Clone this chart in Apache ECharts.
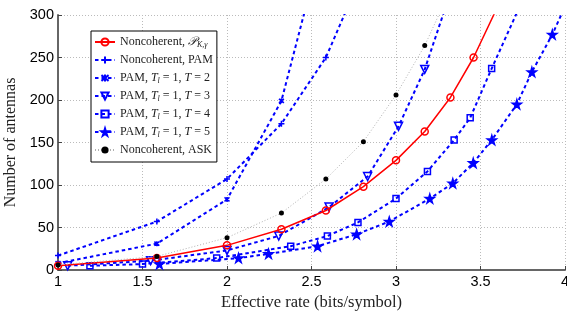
<!DOCTYPE html>
<html>
<head>
<meta charset="utf-8">
<script src="https://cdn.jsdelivr.net/npm/echarts@6/dist/echarts.min.js"></script>
<style>
    html, body { margin: 0; padding: 0; background: #fff; }
    #chart-antennas { width: 567px; height: 312px; }
</style>
</head>
<body>
<div id="chart-antennas"></div>
<script>
// rate (bits/symbol) and antennas
var rateNc    = [1, 1.585, 2, 2.322, 2.585, 2.807, 3, 3.17, 3.322, 3.459, 3.585];
var antNc     = [5, 14, 29, 48, 70, 98, 129, 163, 203, 250, 303];
var ratePam   = [1, 1.585, 2, 2.322, 2.585, 2.807];
var antPam    = [17, 57, 107, 172, 250, 352];
var rateT2    = [1, 1.585, 2, 2.322, 2.585];
var antT2     = [8, 31, 83, 199, 400];
var rateT3    = [1.057, 1.548, 2, 2.306, 2.604, 2.832, 3.015, 3.17, 3.303];
var antT3     = [5, 11, 23, 40, 74, 110, 169, 236, 315];
var rateT4    = [1.189, 1.5, 1.939, 2.377, 2.594, 2.775, 3, 3.186, 3.344, 3.439, 3.566, 3.716];
var antT4     = [5, 7, 14, 28, 40, 56, 84, 116, 153, 179, 237, 303];
var rateT5    = [1.6, 2.068, 2.246, 2.536, 2.767, 2.96, 3.2, 3.336, 3.457, 3.567, 3.715, 3.804, 3.925, 4.0];
var antT5     = [7, 14, 19, 28, 42, 57, 84, 102, 126, 153, 195, 233, 277, 310];
var rateAsk   = [1, 1.585, 2, 2.322, 2.585, 2.807, 3, 3.17, 3.322];
var antAsk    = [6, 16, 38, 67, 107, 151, 206, 264, 330];

var xTicks = [1, 1.5, 2, 2.5, 3, 3.5, 4];
var yTicks = [0, 50, 100, 150, 200, 250, 300];

var names = [
    'Noncoherent, {sc|𝒫}{sub|K,γ}',
    'Noncoherent, PAM',
    'PAM, {it|T}{sub|l} = 1, {it|T} = 2',
    'PAM, {it|T}{sub|l} = 1, {it|T} = 3',
    'PAM, {it|T}{sub|l} = 1, {it|T} = 4',
    'PAM, {it|T}{sub|l} = 1, {it|T} = 5',
    'Noncoherent, ASK'
];

var BLUE = '#0000ff';
var SERIF = '"Liberation Serif", "DejaVu Serif", serif';
var SANS = '"Liberation Sans", Arial, sans-serif';

var plusPath = 'path://M5,0 L5,10 M0,5 L10,5';
var crossPath = 'path://M1,1 L9,9 M9,1 L1,9 M5,0 L5,10';
var starPath = 'path://M50,0 L61,35 L98,35 L68,57 L79,91 L50,70 L21,91 L32,57 L2,35 L39,35 Z';

function pairs( xs, ys ) {
    var out = [];
    for (var i = 0; i < xs.length; i++) {
        out.push([xs[i], ys[i]]);
    }
    return out;
}

function blueSeries( name, xs, ys, symbol, size, fill ) {
    return {
        name: name,
        type: 'line',
        data: pairs( xs, ys ),
        symbol: symbol,
        symbolSize: size,
        showAllSymbol: true,
        lineStyle: { color: BLUE, width: 2, type: [3.5, 3] },
        itemStyle: { color: fill, borderColor: BLUE, borderWidth: 1.5 },
        z: 3
    };
}

var dom = document.getElementById( 'chart-antennas' );
var myChart = echarts.init( dom, null, { renderer: 'canvas' } );

var option = {
    backgroundColor: '#fff',
    animation: false,
    grid: { left: 58, right: 2, top: 15, bottom: 42, containLabel: false, outerBoundsMode: 'none' },
    legend: {
        show: true,
        orient: 'vertical',
        left: 91,
        top: 31,
        itemWidth: 20,
        itemHeight: 9,
        itemGap: 4,
        padding: [4, 4, 5, 3],
        borderColor: '#000',
        borderWidth: 1,
        backgroundColor: '#fff',
        data: names,
        textStyle: {
            fontFamily: SERIF,
            fontSize: 12,
            lineHeight: 14,
            color: '#222',
            rich: {
                it: { fontFamily: SERIF, fontSize: 12, lineHeight: 14, fontStyle: 'italic', color: '#222' },
                sc: { fontFamily: '"DejaVu Serif", serif', fontSize: 12, lineHeight: 14, fontStyle: 'italic', color: '#222' },
                sub: { fontFamily: SERIF, fontSize: 8, lineHeight: 8, verticalAlign: 'bottom', fontStyle: 'italic', color: '#222' }
            }
        }
    },
    xAxis: {
        type: 'value',
        min: 1,
        max: 4,
        interval: 0.5,
        name: 'Effective rate (bits/symbol)',
        nameLocation: 'middle',
        nameGap: 24,
        nameTextStyle: { fontFamily: SERIF, fontSize: 16.5, color: '#222' },
        axisLine: { show: true, lineStyle: { color: '#666', width: 2 } },
        axisTick: { show: true, inside: true, length: 4, lineStyle: { color: '#444' } },
        axisLabel: {
            fontFamily: SANS, fontSize: 14.5, color: '#000', margin: 4,
            formatter: function( v ) { return xTicks.indexOf( v ) >= 0 ? String( v ) : ''; }
        },
        splitLine: { show: true, lineStyle: { color: '#bbb', type: [1, 2], width: 1 } }
    },
    yAxis: {
        type: 'value',
        min: 0,
        max: 300,
        interval: 50,
        name: 'Number of antennas',
        nameLocation: 'middle',
        nameGap: 33,
        nameTextStyle: { fontFamily: SERIF, fontSize: 16, color: '#222' },
        axisLine: { show: true, lineStyle: { color: '#666', width: 2 } },
        axisTick: { show: true, inside: true, length: 4, lineStyle: { color: '#444' } },
        axisLabel: {
            fontFamily: SANS, fontSize: 14.5, color: '#000', margin: 4,
            formatter: function( v ) { return yTicks.indexOf( v ) >= 0 ? String( v ) : ''; }
        },
        splitLine: { show: true, lineStyle: { color: '#bbb', type: [1, 2], width: 1 } }
    },
    series: [
        {
            name: names[0],
            type: 'line',
            data: pairs( rateNc, antNc ),
            symbol: 'circle',
            symbolSize: 7,
            lineStyle: { color: '#ff0000', width: 1.5 },
            itemStyle: { color: 'rgba(255,255,255,0)', borderColor: '#ff0000', borderWidth: 1.5 },
            z: 4
        },
        blueSeries( names[1], ratePam, antPam, plusPath, 6, BLUE ),
        blueSeries( names[2], rateT2, antT2, crossPath, 5, BLUE ),
        blueSeries( names[3], rateT3, antT3, 'triangle', 8, 'rgba(255,255,255,0)' ),
        blueSeries( names[4], rateT4, antT4, 'rect', 6, 'rgba(255,255,255,0)' ),
        blueSeries( names[5], rateT5, antT5, starPath, 9, BLUE ),
        {
            name: names[6],
            type: 'line',
            data: pairs( rateAsk, antAsk ),
            symbol: 'circle',
            symbolSize: 5,
            lineStyle: { color: '#b0b0b0', width: 1, type: [1, 2] },
            itemStyle: { color: '#000' },
            z: 5
        }
    ]
};

// triangles point down
option.series[3].symbolRotate = 180;

myChart.setOption( option );

window.onresize = function() {
    myChart.resize();
};
</script>
</body>
</html>
